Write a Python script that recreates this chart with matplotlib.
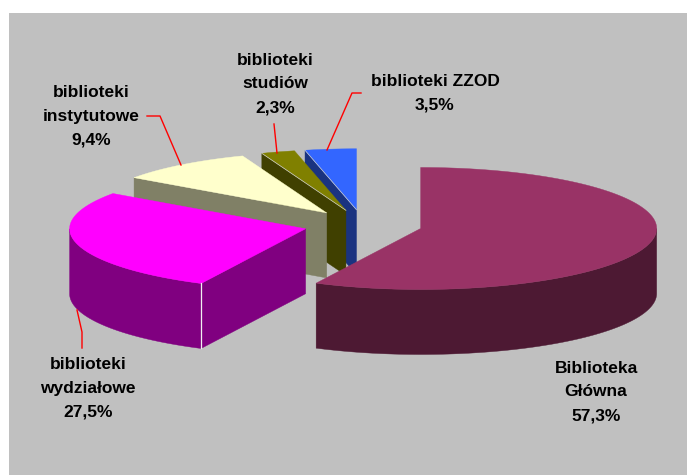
import numpy as np
from matplotlib import pyplot as plt
from matplotlib.patches import Polygon, Rectangle

plt.rcParams['font.family'] = ['Liberation Sans', 'DejaVu Sans']

# dane
names = ["Biblioteka\nGłówna", "biblioteki\nwydziałowe", "biblioteki\ninstytutowe",
         "biblioteki\nstudiów", "biblioteki ZZOD"]
shares = [57.3, 27.5, 9.4, 2.3, 3.5]
top_colors = ["#993366", "#FF00FF", "#FFFFCC", "#808000", "#3366FF"]
side_colors = ["#4D1933", "#800080", "#808066", "#404000", "#1A3380"]
label_pos = [(596, 392), (88, 388), (91, 116), (275, 84), (435, 93)]
leaders = [None,
           [(77, 310), (82, 332), (82, 348)],
           [(147, 116), (160, 116), (181, 165)],
           [(274, 124), (277, 153)],
           [(361, 93), (352, 93), (327, 150)]]

# geometria pie
cx, cy = 363.0, 225.0
a, b = 236, 61
depth = 65
explode = 59.2 / 236


def rim(c, th):
    # kat zgodnie z zegarem od gory
    return np.column_stack([c[0] + a * np.sin(th), c[1] - b * np.cos(th)])


fig = plt.figure(figsize=(6.87, 4.75), dpi=100)
ax = fig.add_axes([0, 0, 1, 1])
ax.set_xlim(0, 687)
ax.set_ylim(475, 0)
ax.axis("off")
ax.add_patch(Rectangle((9, 13), 678, 462, facecolor="#C0C0C0", edgecolor="none", zorder=0))

edges = np.radians(np.concatenate([[0], np.cumsum(shares) * 3.6]))
# malowane od tylu do przodu
for i in [4, 3, 2, 1, 0]:
    t0, t1 = edges[i], edges[i + 1]
    mid = (t0 + t1) / 2
    c = (cx + explode * a * np.sin(mid), cy - explode * b * np.cos(mid))
    z = 10 + (4 - i)
    down = np.array([0, depth])

    # sciana zewnetrzna
    lo, hi = max(t0, np.pi / 2), min(t1, 3 * np.pi / 2)
    if hi > lo:
        th = np.linspace(lo, hi, 100)
        pts = rim(c, th)
        ax.add_patch(Polygon(np.vstack([pts, (pts + down)[::-1]]), facecolor=side_colors[i],
                             edgecolor=side_colors[i], lw=0.3, zorder=z))

    # sciany promieniowe
    for t, vis in [(t0, np.sin(t0) < -1e-6), (t1, np.sin(t1) > 1e-6)]:
        if vis:
            p = rim(c, np.array([t]))[0]
            ax.add_patch(Polygon([c, p, p + down, np.array(c) + down], facecolor=side_colors[i],
                                 edgecolor=side_colors[i], lw=0.3, zorder=z))

    # gora
    th = np.linspace(t0, t1, 200)
    ax.add_patch(Polygon(np.vstack([[c], rim(c, th)]), facecolor=top_colors[i],
                         edgecolor=top_colors[i], lw=0.3, zorder=z + 0.1))

    # jasne krawedzie
    p = rim(c, np.array([t0]))[0]
    if i == 1:
        ax.plot([p[0], p[0]], [p[1], p[1] + depth], color="#F0F0F0", lw=0.9, zorder=z + 0.2)
    if i in (3, 4):
        ax.plot([p[0], c[0]], [p[1], c[1]], color="#D0D0D0", lw=0.5, zorder=z + 0.2)

# etykiety i linie
for name, val, pos, lead in zip(names, shares, label_pos, leaders):
    txt = name + "\n" + f"{val:.1f}%".replace(".", ",")
    ax.text(pos[0], pos[1], txt, ha="center", va="center", fontsize=12.5, fontweight="bold",
            color="black", linespacing=1.72, zorder=30)
    if lead is not None:
        xs, ys = zip(*lead)
        ax.plot(xs, ys, color="#FF0000", lw=1, zorder=25)

fig.savefig("out.png", dpi=100)
